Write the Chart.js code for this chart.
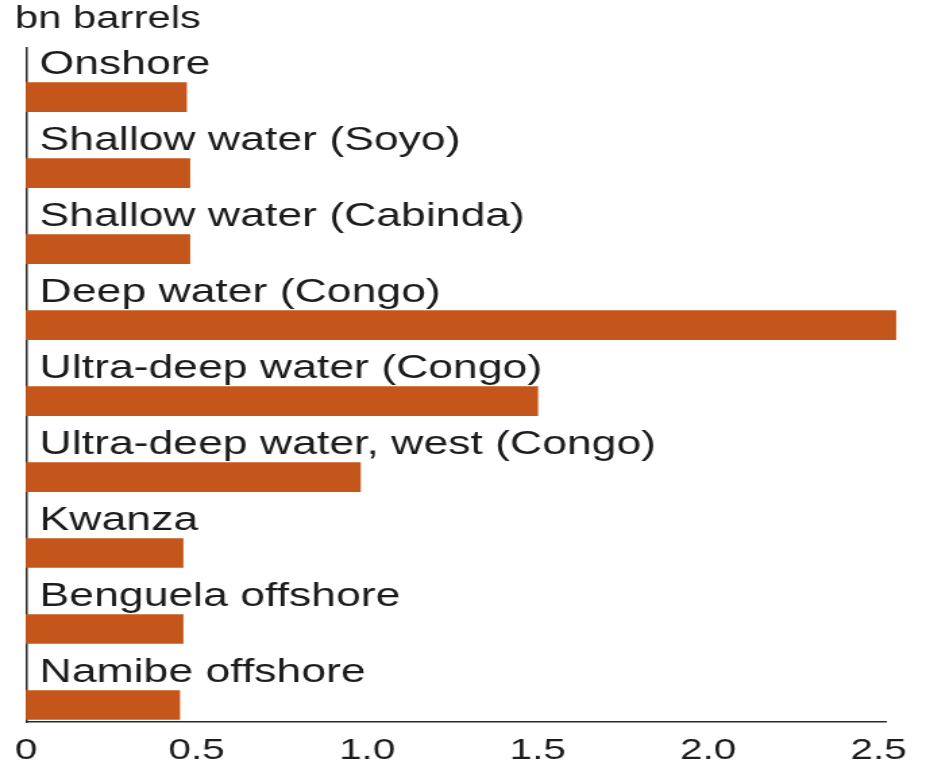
<!DOCTYPE html>
<html>
<head>
<meta charset="utf-8">
<script src="https://cdn.jsdelivr.net/npm/chart.js@4/dist/chart.umd.min.js"></script>
<style>
  html, body { margin: 0; padding: 0; background: #fff; }
</style>
</head>
<body>
<!-- the scanned original is stretched sideways, so the canvas is too -->
<canvas id="chart" width="686" height="770" style="display:block;width:926px;height:770px"></canvas>
<script>
var regions = [
    'Onshore',
    'Shallow water (Soyo)',
    'Shallow water (Cabinda)',
    'Deep water (Congo)',
    'Ultra-deep water (Congo)',
    'Ultra-deep water, west (Congo)',
    'Kwanza',
    'Benguela offshore',
    'Namibe offshore'
];
var reserves = [ 0.47, 0.48, 0.48, 2.55, 1.5, 0.98, 0.46, 0.46, 0.45 ];
var xTicks = [ 0, 0.5, 1.0, 1.5, 2.0, 2.5 ];
var unitLabel = 'bn barrels';

var barColour = '#c4561b';
var inkColour = '#1c1c1c';
var labelFont = '33px "Liberation Sans", Arial, sans-serif';

function buildPoints(){
    var points = [];
    for ( var i = 0; i < reserves.length; i++ ){
        points.push( { x: reserves[i], y: i } );
    }
    return points;
}

// names sit above their bars, inside the plot
var barNames = {
    id: 'barNames',
    afterDatasetsDraw: function( chart ){
        var ctx = chart.ctx;
        var bars = chart.getDatasetMeta(0).data;
        ctx.save();
        ctx.font = labelFont;
        ctx.fillStyle = inkColour;
        ctx.textAlign = 'left';
        ctx.textBaseline = 'middle';
        for ( var i = 0; i < bars.length; i++ ){
            ctx.fillText( regions[i], bars[i].base + 10, bars[i].y - 32 );
        }
        ctx.restore();
    }
};

var ctx = document.getElementById('chart').getContext('2d');
var chart = new Chart(ctx, {
    type: 'bar',
    data: {
        datasets: [{
            data: buildPoints(),
            backgroundColor: barColour,
            borderWidth: 0,
            barThickness: 29,
            clip: false
        }]
    },
    options: {
        responsive: false,
        animation: false,
        indexAxis: 'y',
        layout: { padding: { left: 11, right: 30, top: 0, bottom: 2 } },
        plugins: {
            legend: { display: false },
            tooltip: { enabled: false },
            title: {
                display: true,
                text: unitLabel,
                align: 'start',
                color: inkColour,
                font: { family: '"Liberation Sans", Arial, sans-serif', size: 31, weight: 'normal' },
                padding: { top: 1, bottom: 10 }
            }
        },
        scales: {
            x: {
                type: 'linear',
                min: 0,
                max: 2.52,
                afterBuildTicks: function( scale ){
                    scale.ticks = xTicks.map( function( v ){ return { value: v }; } );
                },
                afterFit: function( scale ){ scale.height = 46; },
                grid: { display: false, drawTicks: false },
                border: { display: true, color: '#2a2a2a', width: 1.5 },
                ticks: {
                    color: inkColour,
                    padding: 11,
                    maxRotation: 0,
                    font: { family: '"Liberation Sans", Arial, sans-serif', size: 30 },
                    callback: function( v ){ return v === 0 ? '0' : v.toFixed(1); }
                }
            },
            y: {
                type: 'linear',
                reverse: true,
                offset: false,
                min: -0.645,
                max: 8.224,
                grid: { display: false, drawTicks: false, offset: false },
                border: { display: true, color: '#2a2a2a', width: 1.5 },
                ticks: { display: false },
                afterFit: function( scale ){ scale.width = 5; }
            }
        }
    },
    plugins: [ barNames ]
});
</script>
</body>
</html>
